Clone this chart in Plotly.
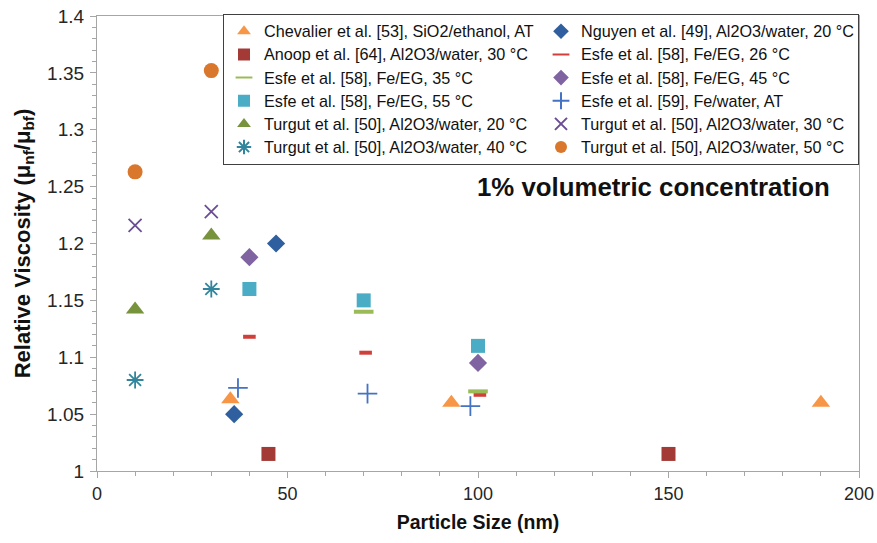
import plotly.graph_objects as go

# ---- data ----
names = [
    "Chevalier et al. [53], SiO2/ethanol, AT",
    "Nguyen et al. [49], Al2O3/water, 20 °C",
    "Anoop et al. [64], Al2O3/water, 30 °C",
    "Esfe et al. [58], Fe/EG, 26 °C",
    "Esfe et al. [58], Fe/EG, 35 °C",
    "Esfe et al. [58], Fe/EG, 45 °C",
    "Esfe et al. [58], Fe/EG, 55 °C",
    "Esfe et al. [59], Fe/water, AT",
    "Turgut et al. [50], Al2O3/water, 20 °C",
    "Turgut et al. [50], Al2O3/water, 30 °C",
    "Turgut et al. [50], Al2O3/water, 40 °C",
    "Turgut et al. [50], Al2O3/water, 50 °C",
]
chevalier_x = [35, 93, 190]
chevalier_y = [1.063, 1.060, 1.060]
nguyen_x = [36, 47]
nguyen_y = [1.050, 1.200]
anoop_x = [45, 150]
anoop_y = [1.015, 1.015]
esfe26_x = [40, 70.5, 100.5]
esfe26_y = [1.118, 1.104, 1.067]
esfe35_x = [70, 100]
esfe35_y = [1.140, 1.070]
esfe45_x = [40, 100]
esfe45_y = [1.188, 1.095]
esfe55_x = [40, 70, 100]
esfe55_y = [1.160, 1.150, 1.110]
esfe59_x = [37, 71, 98]
esfe59_y = [1.073, 1.068, 1.057]
turgut20_x = [10, 30]
turgut20_y = [1.142, 1.207]
turgut30_x = [10, 30]
turgut30_y = [1.216, 1.228]
turgut40_x = [10, 30]
turgut40_y = [1.080, 1.160]
turgut50_x = [10, 30]
turgut50_y = [1.263, 1.352]

xs = [chevalier_x, nguyen_x, anoop_x, esfe26_x, esfe35_x, esfe45_x, esfe55_x,
      esfe59_x, turgut20_x, turgut30_x, turgut40_x, turgut50_x]
ys = [chevalier_y, nguyen_y, anoop_y, esfe26_y, esfe35_y, esfe45_y, esfe55_y,
      esfe59_y, turgut20_y, turgut30_y, turgut40_y, turgut50_y]

styles = [
    dict(symbol="triangle-up", size=16, color="#F79646"),
    dict(symbol="diamond", size=14, color="#2F5F9E"),
    dict(symbol="square", size=14, color="#A33A36"),
    dict(symbol="line-ew", size=9, color="#D0403B", line=dict(width=4, color="#D0403B")),
    dict(symbol="line-ew", size=14, color="#9BBB59", line=dict(width=4, color="#9BBB59")),
    dict(symbol="diamond", size=14, color="#8064A2"),
    dict(symbol="square", size=14, color="#4BACC6"),
    dict(symbol="cross-thin", size=14, color="#4472C4", line=dict(width=1.8, color="#4472C4")),
    dict(symbol="triangle-up", size=16, color="#77933C"),
    dict(symbol="x-thin", size=13, color="#6B4D94", line=dict(width=1.8, color="#6B4D94")),
    dict(symbol="asterisk", size=14, color="#31859C", line=dict(width=1.8, color="#31859C")),
    dict(symbol="circle", size=15, color="#D9782D"),
]

FONT = "Liberation Sans, Arial"

fig = go.Figure()
for name, x, y, st in zip(names, xs, ys, styles):
    marker = dict(symbol=st["symbol"], size=st["size"], color=st["color"])
    if "line" in st:
        marker["line"] = st["line"]
    else:
        marker["line"] = dict(width=0)
    fig.add_trace(go.Scatter(
        x=x, y=y, mode="markers",
        name='<span style="font-size:16.2px">' + name + "</span>",
        marker=marker,
    ))

axis_common = dict(
    showline=True, linecolor="#A6A6A6", linewidth=1.3, mirror=True,
    showgrid=False, zeroline=False, ticks="outside", ticklen=6, tickcolor="#A6A6A6",
    automargin=False, ticklabeloverflow="allow",
)

fig.update_xaxes(
    range=[0, 200], dtick=50, tick0=0,
    tickfont=dict(family=FONT, size=18, color="#262626"),
    minor=dict(dtick=10, ticks="outside", ticklen=4, tickcolor="#A6A6A6"),
    title=dict(text="<b>Particle Size (nm)</b>",
               font=dict(family=FONT, size=19.5, color="#111"), standoff=12),
    **axis_common,
)
fig.update_yaxes(
    range=[1, 1.4], dtick=0.05, tick0=1,
    ticklabelstandoff=2,
    tickfont=dict(family=FONT, size=19, color="#262626"),
    minor=dict(dtick=0.01, ticks="outside", ticklen=4, tickcolor="#A6A6A6"),
    title=dict(text="<b>Relative Viscosity (μ<sub>nf</sub>/μ<sub>bf</sub>)</b>",
               font=dict(family=FONT, size=22, color="#111"), standoff=10),
    **axis_common,
)

fig.add_annotation(
    x=146, y=1.25, xref="x", yref="y", showarrow=False,
    text="<b>1% volumetric concentration</b>",
    font=dict(family=FONT, size=25.8, color="#111"),
)

fig.update_layout(
    width=877, height=543,
    margin=dict(l=97, r=18, t=16, b=72, autoexpand=False),
    plot_bgcolor="white", paper_bgcolor="white",
    showlegend=True,
    legend=dict(
        orientation="h", x=1.0, xanchor="right", y=1.005, yanchor="top",
        entrywidth=272, itemwidth=30, itemsizing="constant",
        bgcolor="white", bordercolor="#404040", borderwidth=1,
        font=dict(family=FONT, size=15.5, color="#111"),
    ),
)

fig.write_html(
    "out.html",
    config={"displayModeBar": False},
    post_script="document.body.style.margin='0px';",
)
